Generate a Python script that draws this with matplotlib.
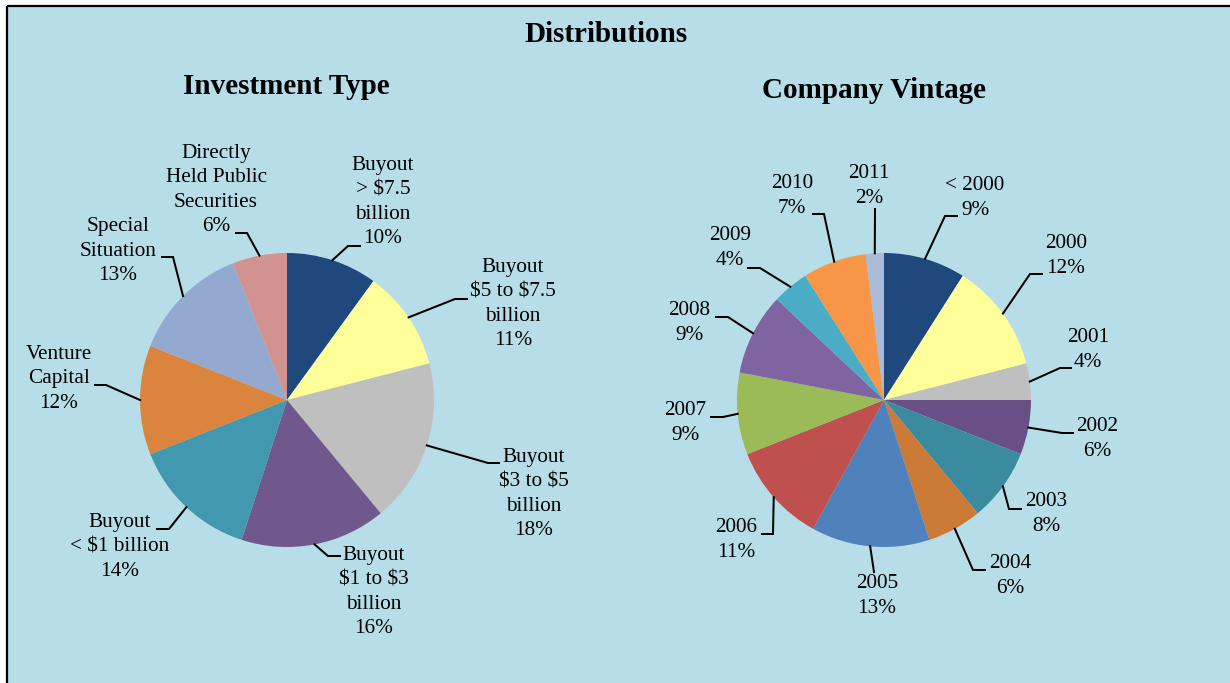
import numpy as np
import matplotlib
matplotlib.use("Agg")
import matplotlib.pyplot as plt
from matplotlib.patches import Rectangle

plt.rcParams['font.family'] = ['Liberation Serif', 'DejaVu Serif']
plt.rcParams['text.parse_math'] = False

# ---------------- data ----------------
inv_labels = ["Buyout\n> $7.5\nbillion", "Buyout\n$5 to $7.5\nbillion",
              "Buyout\n$3 to $5\nbillion", "Buyout\n$1 to $3\nbillion",
              "Buyout\n< $1 billion", "Venture\nCapital",
              "Special\nSituation", "Directly\nHeld Public\nSecurities"]
inv_values = [10, 11, 18, 16, 14, 12, 13, 6]
inv_colors = ["#1F497D", "#FFFF99", "#BFBFBF", "#70578C", "#4198AF",
              "#DB843D", "#93A9CF", "#D19392"]

vin_labels = ["< 2000", "2000", "2001", "2002", "2003", "2004", "2005",
              "2006", "2007", "2008", "2009", "2010", "2011"]
vin_values = [9, 12, 4, 6, 8, 6, 13, 11, 9, 9, 4, 7, 2]
vin_colors = ["#1F497D", "#FFFF99", "#BFBFBF", "#6A4F87", "#3B8BA0",
              "#CC7A38", "#4F81BD", "#C0504D", "#9BBB59", "#8064A2",
              "#4BACC6", "#F79646", "#AABAD7"]

# ---------------- layout (pixel positions, y from top) ----------------
W, H = 1230, 683
inv_center, inv_radius = (287, 400), 147
vin_center, vin_radius = (884, 400), 147

inv_text_pos = [(383, 202), (513, 304), (534, 494), (374, 592), (120, 547),
                (59, 379), (118, 251), (216, 190)]
inv_leader = [((348, 246), (360, 246)), ((455, 299), (467, 299)),
              ((488, 463), (499, 463)), ((328, 556), (340, 556)),
              ((169, 529), (157, 529)), ((106, 385), (95, 385)),
              ((173, 257), (162, 257)), ((247, 233), (236, 233))]

vin_text_pos = [(975, 198), (1066, 256), (1088, 350), (1097, 439),
                (1046, 514), (1010, 576), (877, 596), (736, 540),
                (685, 423), (689, 323), (730, 248), (792, 196), (869, 186)]
vin_leader = [((945, 216), (957, 216)), ((1030, 274), (1042, 274)),
              ((1060, 368), (1071, 368)), ((1062, 433), (1073, 433)),
              ((1009, 509), (1021, 509)), ((973, 570), (985, 570)),
              ((874, 572), (874, 572)), ((773, 534), (762, 534)),
              ((723, 417), (711, 417)), ((728, 317), (716, 317)),
              ((760, 268), (748, 268)), ((824, 214), (813, 214)),
              ((875, 209), (875, 209))]

BG = "#B7DDE8"

fig = plt.figure(figsize=(12.3, 6.83), dpi=100)
fig.patch.set_facecolor("white")
ax = fig.add_axes([0, 0, 1, 1])


def Y(py):
    return H - py


ax.add_patch(Rectangle((7, 0), W - 7, Y(6), facecolor=BG, edgecolor="none", zorder=0))
ax.plot([7, W], [Y(6), Y(6)], color="black", lw=1.6, zorder=1, solid_capstyle="butt")
ax.plot([7, 7], [0, Y(6)], color="black", lw=1.6, zorder=1, solid_capstyle="butt")


def draw_pie(values, labels, colors, center, radius, text_pos, leaders):
    cx, cy = center[0], Y(center[1])
    ax.pie(values, colors=colors, startangle=90, counterclock=False,
           center=(cx, cy), radius=radius, wedgeprops=dict(linewidth=0),
           frame=True)
    total = float(sum(values))
    cum = 0.0
    for v, lab, tp, (elb, end) in zip(values, labels, text_pos, leaders):
        mid = 90 - 360 * (cum + v / 2) / total
        cum += v
        ex = cx + radius * np.cos(np.radians(mid))
        ey = cy + radius * np.sin(np.radians(mid))
        ax.plot([ex, elb[0], end[0]], [ey, Y(elb[1]), Y(end[1])],
                color="black", lw=1.45, zorder=3, solid_joinstyle="miter")
        ax.text(tp[0], Y(tp[1]), f"{lab}\n{v}%", ha="center", va="center",
                fontsize=15.3, linespacing=1.38, color="black", zorder=4,
                parse_math=False)


draw_pie(inv_values, inv_labels, inv_colors, inv_center, inv_radius,
         inv_text_pos, inv_leader)
draw_pie(vin_values, vin_labels, vin_colors, vin_center, vin_radius,
         vin_text_pos, vin_leader)

ax.text(606, Y(34), "Distributions", ha="center", va="center",
        fontsize=21, fontweight="bold")
ax.text(286, Y(87), "Investment Type", ha="center", va="center",
        fontsize=21, fontweight="bold")
ax.text(874, Y(90), "Company Vintage", ha="center", va="center",
        fontsize=21, fontweight="bold")

ax.set_xlim(0, W)
ax.set_ylim(0, H)
ax.set_aspect("auto")
ax.axis("off")

fig.savefig("out.png", dpi=100, facecolor="white")
